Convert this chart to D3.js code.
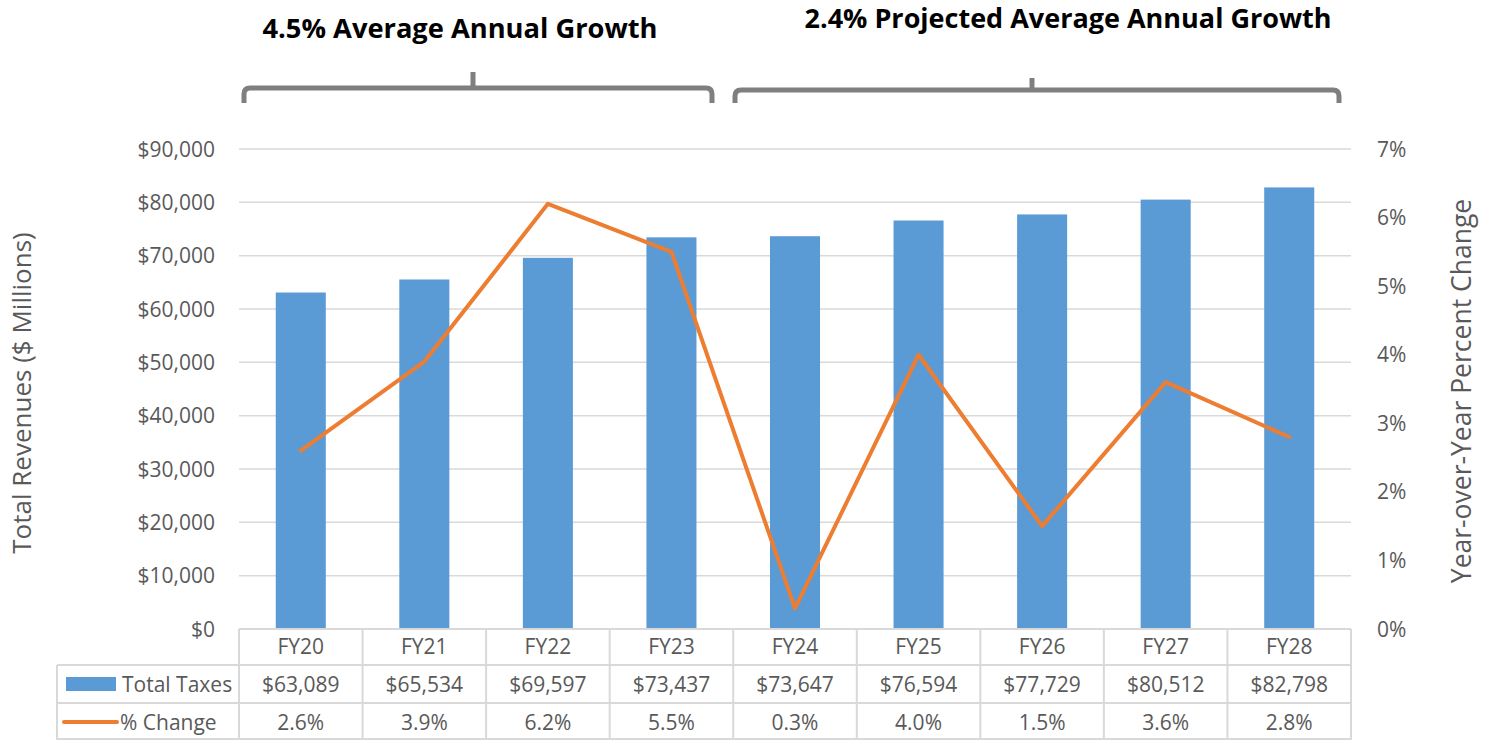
<!DOCTYPE html>
<html><head><meta charset="utf-8">
<script src="https://cdn.jsdelivr.net/npm/d3@7"></script>
<style>body{margin:0;background:#fff}svg{display:block}text{font-family:"Open Sans",sans-serif}</style>
</head><body>
<svg id="c" width="1486" height="740"></svg>
<script>
const categories = ["FY20","FY21","FY22","FY23","FY24","FY25","FY26","FY27","FY28"];
const totalTaxes = [63089,65534,69597,73437,73647,76594,77729,80512,82798];
const pctChange = [2.6,3.9,6.2,5.5,0.3,4.0,1.5,3.6,2.8];
const leftTicks = [0,10000,20000,30000,40000,50000,60000,70000,80000,90000];
const rightTicks = [0,1,2,3,4,5,6,7];
const seriesNames = ["Total Taxes","% Change"];
const groupTitles = ["4.5% Average Annual Growth","2.4% Projected Average Annual Growth"];

const svg = d3.select("#c");
const L = 239, R = 1351, T = 149, B = 629;
const blue = "#5b9bd5", orange = "#ed7d31", grid = "#d9d9d9", txt = "#595959";
const fs = 21;

const x = d3.scaleBand().domain(categories).range([L, R]).padding(0);
const y = d3.scaleLinear().domain([0, 90000]).range([B, T]);
const y2 = d3.scaleLinear().domain([0, 7]).range([B, T]);
const fmt$ = v => "$" + d3.format(",")(v);

// gridlines
svg.append("g").selectAll("line").data(leftTicks.filter(d=>d>0)).join("line")
  .attr("x1", L).attr("x2", R).attr("y1", d=>y(d)).attr("y2", d=>y(d))
  .attr("stroke", grid).attr("stroke-width", 1.5);

// left tick labels
svg.append("g").selectAll("text").data(leftTicks).join("text")
  .attr("x", 215).attr("y", d=>y(d)).attr("dy","0.36em").attr("text-anchor","end")
  .attr("font-size", fs).attr("fill", txt).text(fmt$);
// right tick labels
svg.append("g").selectAll("text").data(rightTicks).join("text")
  .attr("x", 1377).attr("y", d=>y2(d)).attr("dy","0.36em").attr("text-anchor","start")
  .attr("font-size", fs).attr("fill", txt).text(d=>d+"%");

// bars
const bw = x.bandwidth()*0.405;
svg.append("g").selectAll("rect").data(categories).join("rect")
  .attr("x", (d)=>x(d)+x.bandwidth()/2-bw/2).attr("width", bw)
  .attr("y", (d,i)=>y(totalTaxes[i])).attr("height", (d,i)=>B-y(totalTaxes[i]))
  .attr("fill", blue);

// line
const line = d3.line().x((d,i)=>x(categories[i])+x.bandwidth()/2).y(d=>y2(d));
svg.append("path").datum(pctChange).attr("d", line).attr("fill","none")
  .attr("stroke", orange).attr("stroke-width", 4).attr("stroke-linejoin","round").attr("stroke-linecap","round");

// data table
const rowY = [629, 665, 703, 740];
const tl = 57;
const tg = svg.append("g").attr("stroke", grid).attr("stroke-width", 2);
tg.append("line").attr("x1", L).attr("x2", R).attr("y1", rowY[0]).attr("y2", rowY[0]);
tg.append("line").attr("x1", tl).attr("x2", R).attr("y1", rowY[1]).attr("y2", rowY[1]);
tg.append("line").attr("x1", tl).attr("x2", R).attr("y1", rowY[2]).attr("y2", rowY[2]);
tg.append("line").attr("x1", tl).attr("x2", R).attr("y1", 739).attr("y2", 739);
tg.selectAll("line.v").data(categories.concat(["end"])).join("line").attr("class","v")
  .attr("x1", d=> d==="end"? R : x(d)).attr("x2", d=> d==="end"? R : x(d))
  .attr("y1", rowY[0]).attr("y2", 740);
tg.append("line").attr("x1", tl).attr("x2", tl).attr("y1", rowY[1]).attr("y2", 740);

const cx = d => x(d)+x.bandwidth()/2;
svg.append("g").selectAll("text").data(categories).join("text")
  .attr("x", cx).attr("y", 654).attr("text-anchor","middle").attr("font-size",fs).attr("fill",txt).text(d=>d);
svg.append("g").selectAll("text").data(categories).join("text")
  .attr("x", cx).attr("y", 692).attr("text-anchor","middle").attr("font-size",fs).attr("fill",txt).text((d,i)=>fmt$(totalTaxes[i]));
svg.append("g").selectAll("text").data(categories).join("text")
  .attr("x", cx).attr("y", 730).attr("text-anchor","middle").attr("font-size",fs).attr("fill",txt).text((d,i)=>pctChange[i].toFixed(1)+"%");

// legend keys
svg.append("rect").attr("x",66).attr("y",677).attr("width",50).attr("height",14).attr("fill",blue);
svg.append("text").attr("x",122).attr("y",692).attr("font-size",fs).attr("fill",txt).text(seriesNames[0]);
svg.append("line").attr("x1",64).attr("x2",117).attr("y1",722).attr("y2",722).attr("stroke",orange).attr("stroke-width",4).attr("stroke-linecap","round");
svg.append("text").attr("x",120).attr("y",730).attr("font-size",fs).attr("fill",txt).text(seriesNames[1]);

// axis titles
svg.append("text").attr("transform","translate(31,393) rotate(-90)").attr("text-anchor","middle")
  .attr("font-size",26).attr("fill",txt).text("Total Revenues ($ Millions)");
svg.append("text").attr("transform","translate(1471,391) rotate(-90)").attr("text-anchor","middle")
  .attr("font-size",26.5).attr("fill",txt).text("Year-over-Year Percent Change");

// brackets
const brackets = [
  {x0:244, x1:712, tipX:473, yb:88, tip:72, title:groupTitles[0], tx:460, ty:38, tw:395},
  {x0:735, x1:1339, tipX:1032, yb:90, tip:78, title:groupTitles[1], tx:1068, ty:28, tw:527}
];
brackets.forEach(b=>{
  const r = 6, bot = 103;
  const p = `M${b.x0},${bot} L${b.x0},${b.yb+r} Q${b.x0},${b.yb} ${b.x0+r},${b.yb} L${b.x1-r},${b.yb} Q${b.x1},${b.yb} ${b.x1},${b.yb+r} L${b.x1},${bot}`;
  svg.append("path").attr("d",p).attr("fill","none").attr("stroke","#7f7f7f").attr("stroke-width",5);
  svg.append("line").attr("x1",b.tipX).attr("x2",b.tipX).attr("y1",b.tip).attr("y2",b.yb).attr("stroke","#7f7f7f").attr("stroke-width",5);
  svg.append("text").attr("x",b.tx).attr("y",b.ty).attr("text-anchor","middle").attr("font-size",26)
    .attr("font-weight","bold").attr("fill","#000")
    .attr("textLength", b.tw).attr("lengthAdjust","spacingAndGlyphs").text(b.title);
});
</script>
</body></html>
